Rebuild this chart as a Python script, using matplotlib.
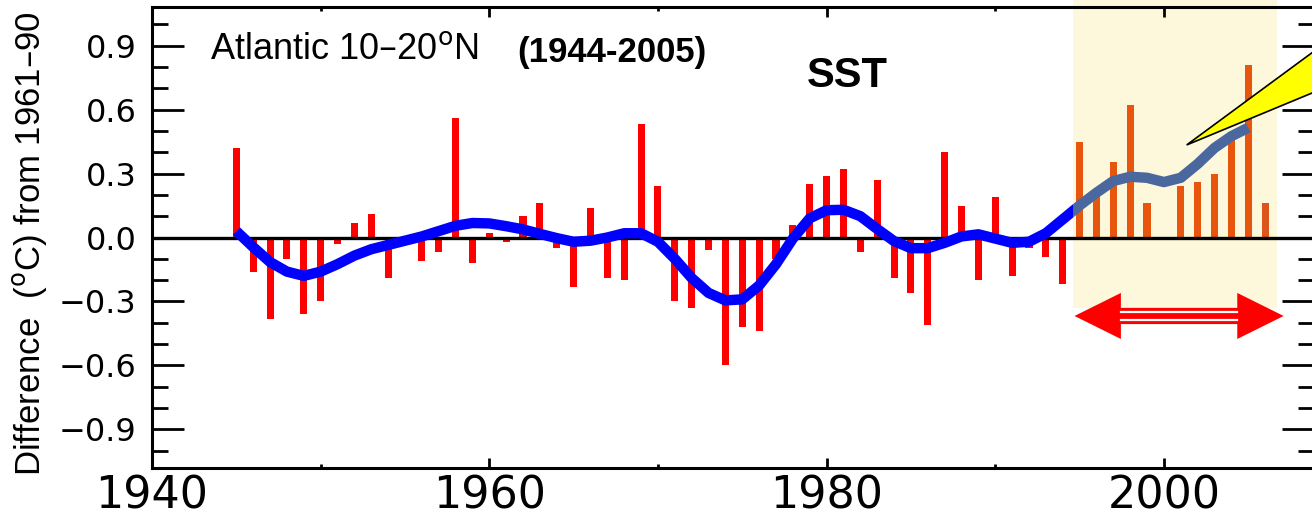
import matplotlib.pyplot as plt
import numpy as np
from matplotlib.patches import Polygon, Rectangle
from matplotlib.ticker import MultipleLocator

# Annual SST anomalies, Atlantic 10-20N (deg C relative to 1961-90)
YEARS = np.arange(1945, 2007)
ANOMALY = [
    0.42, -0.16, -0.38, -0.10, -0.36, -0.30, -0.03, 0.07, 0.11, -0.19,
    -0.01, -0.11, -0.07, 0.56, -0.12, 0.02, -0.02, 0.10, 0.16, -0.05,
    -0.23, 0.14, -0.19, -0.20, 0.53, 0.24, -0.30, -0.33, -0.06, -0.60,
    -0.42, -0.44, -0.10, 0.06, 0.25, 0.29, 0.32, -0.07, 0.27, -0.19,
    -0.26, -0.41, 0.40, 0.15, -0.20, 0.19, -0.18, -0.05, -0.09, -0.22,
    0.45, 0.20, 0.355, 0.62, 0.16, -0.01, 0.24, 0.26, 0.30, 0.46,
    0.81, 0.16,
]

# Decadal smoothed curve
SMOOTH_YEARS = np.arange(1945, 2006)
SMOOTH = [
    0.03, -0.045, -0.115, -0.16, -0.18, -0.16, -0.125, -0.085, -0.055, -0.035,
    -0.015, 0.005, 0.03, 0.055, 0.068, 0.066, 0.053, 0.038, 0.017, -0.003,
    -0.02, -0.015, 0.0, 0.02, 0.02, -0.02, -0.10, -0.19, -0.26, -0.295,
    -0.29, -0.225, -0.125, -0.005, 0.09, 0.128, 0.13, 0.10, 0.04, -0.017,
    -0.05, -0.05, -0.025, 0.005, 0.015, -0.005, -0.025, -0.02, 0.02, 0.085,
    0.15, 0.21, 0.265, 0.285, 0.28, 0.26, 0.28, 0.345, 0.42, 0.475,
    0.515,
]

RECENT_START = 1994.6
RECENT_END = 2006.7

W, H = 1312, 521
fig = plt.figure(figsize=(W / 100, H / 100), dpi=100)
ax = fig.add_axes([152 / W, 1 - 468 / H, 1162 / W, 461 / H])
ax.set_xlim(1940, 2008.9)
ax.set_ylim(-1.081, 1.081)

# highlighted recent period
ax.add_patch(Rectangle((RECENT_START, -0.33), RECENT_END - RECENT_START, 1.6,
                       facecolor="#fdf8dc", edgecolor="none", zorder=0,
                       clip_on=False))

years = np.asarray(YEARS)
vals = np.asarray(ANOMALY)
recent = years >= 1995
bar_colors = np.where(recent, "#e8560e", "#ff0000").tolist()
bar_colors[-1] = "#dc561c"
ax.bar(years, vals, width=0.42, color=bar_colors, zorder=2)

ax.axhline(0, color="black", lw=2.4, zorder=3)

# smoothed curve: bright blue outside the highlight, muted inside it
for color, x0, x1 in [("#0000ff", 1930, RECENT_START),
                      ("#4a689e", RECENT_START, 2020)]:
    (ln,) = ax.plot(SMOOTH_YEARS, SMOOTH, color=color, lw=7.5,
                    solid_capstyle="butt", solid_joinstyle="round", zorder=4)
    clip = Rectangle((x0, -2), x1 - x0, 4, transform=ax.transData)
    ln.set_clip_path(clip)

# double-headed arrow spanning the recent period
ay, hh, sh = -0.368, 0.108, 0.038
xl, xr, hl = 1994.7, 2007.1, 2.75
arrow = [(xl, ay), (xl + hl, ay + hh), (xl + hl, ay + sh), (xr - hl, ay + sh),
         (xr - hl, ay + hh), (xr, ay), (xr - hl, ay - hh), (xr - hl, ay - sh),
         (xl + hl, ay - sh), (xl + hl, ay - hh)]
ax.add_patch(Polygon(arrow, closed=True, facecolor="#ff0000", edgecolor="none",
                     zorder=5, clip_on=False))
for dy in (0.017, -0.017):
    ax.plot([xl + hl, xr - hl], [ay + dy, ay + dy], color="white", lw=1.6,
            zorder=6, clip_on=False)

# yellow callout pointer
ax.add_patch(Polygon([(2001.35, 0.434), (2012, 1.054), (2012, 0.783)],
                     closed=True, facecolor="#ffff00", edgecolor="black",
                     lw=1.2, zorder=6, clip_on=False))

# axes styling
for sp in ax.spines.values():
    sp.set_linewidth(2.2)
ax.xaxis.set_major_locator(MultipleLocator(20))
ax.xaxis.set_minor_locator(MultipleLocator(10))
ax.yaxis.set_major_locator(MultipleLocator(0.3))
ax.yaxis.set_minor_locator(MultipleLocator(0.1))
ax.tick_params(which="both", direction="in", top=True, right=True, width=2)
ax.tick_params(axis="x", which="major", length=7, pad=5, labelsize=32)
ax.tick_params(axis="x", which="minor", length=3)
ax.tick_params(axis="y", which="major", length=23, pad=11, labelsize=23)
ax.tick_params(axis="y", which="minor", length=11.5)
ax.set_yticks([-0.9, -0.6, -0.3, 0.0, 0.3, 0.6, 0.9])
ax.set_yticklabels(["\u22120.9", "\u22120.6", "\u22120.3", "0.0", "0.3", "0.6", "0.9"])

fig.text(30 / W, 1 - 244 / H, "Difference  ($^{\\rm o}$C) from 1961\u201390",
         rotation=90, ha="center", va="center", fontsize=25,
         family="Liberation Sans")

fig.text(210 / W, 1 - 59 / H, "Atlantic 10\u201320$^{\\rm o}$N", ha="left",
         va="baseline", fontsize=26, family="Liberation Sans")
fig.text(517 / W, 1 - 62 / H, "(1944-2005)", ha="left", va="baseline",
         fontsize=25, fontweight="bold", family="Liberation Sans")
fig.text(807 / W, 1 - 87 / H, "SST", ha="left", va="baseline", fontsize=30,
         fontweight="bold", family="Liberation Sans")

fig.savefig("out.png", dpi=100)
